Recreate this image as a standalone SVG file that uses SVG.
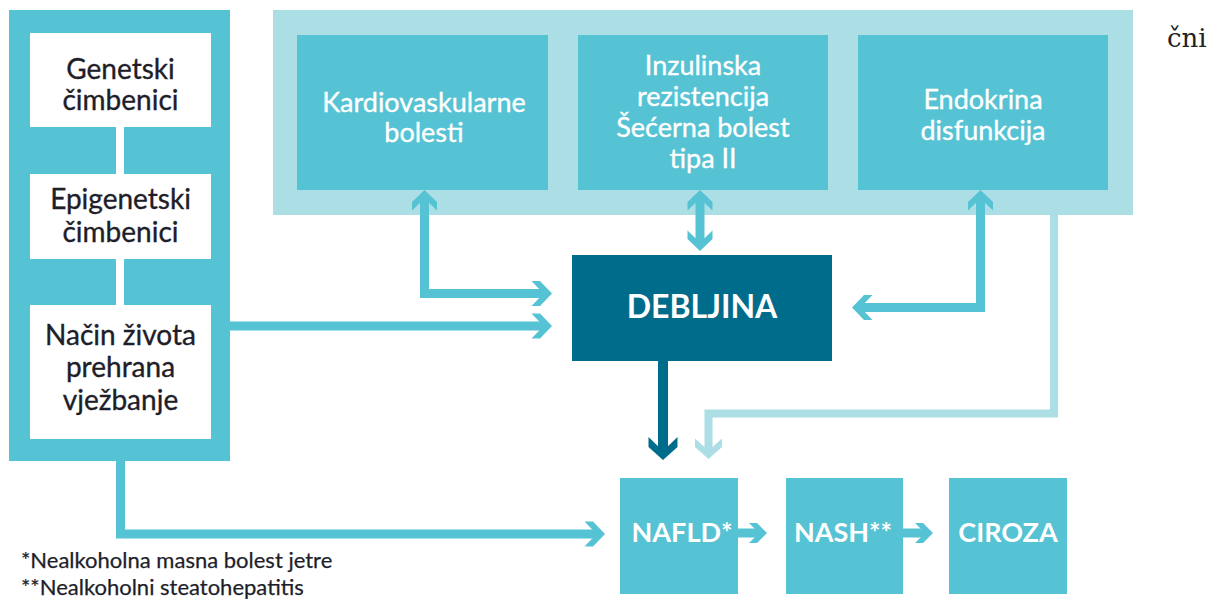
<svg xmlns="http://www.w3.org/2000/svg" width="1207" height="599" viewBox="0 0 1207 599">
<style>
.teal{fill:#55c3d3}
.light{fill:#acdee5}
.dark{fill:#006c8b}
.white{fill:#ffffff}
.t{font-family:Lato,"Noto Sans",sans-serif;text-anchor:middle}
.tl{font-size:28px;fill:#1e1e2a;stroke:#1e1e2a;stroke-width:0.35}
.tw{font-size:27px;fill:#ffffff;stroke:#ffffff;stroke-width:0.35}
.tb{font-size:27px;font-weight:bold;fill:#ffffff}
.fn{font-family:Lato,"Noto Sans",sans-serif;font-size:22px;fill:#1e1e2a;stroke:#1e1e2a;stroke-width:0.25}
.c{fill:none;stroke-linejoin:miter;stroke-linecap:butt}
.ct{stroke:#55c3d3;stroke-width:9}
.cl{stroke:#acdee5;stroke-width:8}
.cd{stroke:#006c8b;stroke-width:10}
.cw{stroke:#ffffff;stroke-width:8}
</style>
<defs>
<marker id="aT" markerUnits="userSpaceOnUse" viewBox="-15 -15 30 30" markerWidth="30" markerHeight="30" refX="0" refY="0" orient="auto-start-reverse" overflow="visible">
<polygon points="8,0 -4,-12.5 -12.5,-12.5 -0.5,0 -12.5,12.5 -4,12.5" fill="#55c3d3"/>
</marker>
<marker id="aS" markerUnits="userSpaceOnUse" viewBox="-15 -15 30 30" markerWidth="30" markerHeight="30" refX="0" refY="0" orient="auto" overflow="visible">
<polygon points="8,0 -2,-10 -10,-10 0,0 -10,10 -2,10" fill="#55c3d3"/>
</marker>
<marker id="aL" markerUnits="userSpaceOnUse" viewBox="-15 -15 30 30" markerWidth="30" markerHeight="30" refX="0" refY="0" orient="auto" overflow="visible">
<polygon points="8,0 -4,-13.5 -12.5,-13.5 -0.5,0 -12.5,13.5 -4,13.5" fill="#acdee5"/>
</marker>
<marker id="aD" markerUnits="userSpaceOnUse" viewBox="-15 -15 30 30" markerWidth="30" markerHeight="30" refX="0" refY="0" orient="auto" overflow="visible">
<polygon points="8,0 -5,-14.5 -15,-14.5 -1,0 -15,14.5 -5,14.5" fill="#006c8b"/>
</marker>
</defs>

<g id="left-panel">
<rect class="teal" x="9" y="10" width="221" height="451"/>
</g>
<g id="top-panel">
<rect class="light" x="273" y="10" width="860" height="205"/>
</g>

<g id="connectors">
<line class="c cw" x1="120" y1="127" x2="120" y2="174"/>
<line class="c cw" x1="120" y1="259" x2="120" y2="305"/>
<path class="c ct" d="M424.5,198 V293.5 H544" marker-start="url(#aT)" marker-end="url(#aT)"/>
<path class="c ct" d="M700,198 V243" marker-start="url(#aT)" marker-end="url(#aT)"/>
<path class="c ct" d="M980.5,198 V307.5 H860" marker-start="url(#aT)" marker-end="url(#aT)"/>
<path class="c ct" d="M230,326 H544" marker-end="url(#aT)"/>
<path class="c ct" d="M120.5,461 V534 H597" marker-end="url(#aT)"/>
<path class="c cd" d="M663,361 V452" marker-end="url(#aD)"/>
<path class="c cl" d="M1054,215 V413.5 H708.5 V451" marker-end="url(#aL)"/>
<path class="c ct" d="M738,533 H759" marker-end="url(#aS)"/>
<path class="c ct" d="M903,533 H925" marker-end="url(#aS)"/>
</g>

<g id="genetski">
<rect class="white" x="30" y="33" width="181" height="94"/>
<text class="t tl" x="120.5" y="79">Genetski</text>
<text class="t tl" x="120.5" y="110">čimbenici</text>
</g>
<g id="epigenetski">
<rect class="white" x="30" y="174" width="181" height="85"/>
<text class="t tl" x="120.5" y="209">Epigenetski</text>
<text class="t tl" x="120.5" y="242">čimbenici</text>
</g>
<g id="nacin-zivota">
<rect class="white" x="30" y="305" width="181" height="134"/>
<text class="t tl" x="120.5" y="345">Način života</text>
<text class="t tl" x="120.5" y="377">prehrana</text>
<text class="t tl" x="120.5" y="410">vježbanje</text>
</g>

<g id="kardiovaskularne">
<rect class="teal" x="297" y="35" width="251" height="155"/>
<text class="t tw" x="424" y="112">Kardiovaskularne</text>
<text class="t tw" x="424" y="142">bolesti</text>
</g>
<g id="inzulinska">
<rect class="teal" x="578" y="35" width="250" height="155"/>
<text class="t tw" x="703" y="75">Inzulinska</text>
<text class="t tw" x="703" y="106">rezistencija</text>
<text class="t tw" x="703" y="137">Šećerna bolest</text>
<text class="t tw" x="703" y="168">tipa II</text>
</g>
<g id="endokrina">
<rect class="teal" x="858" y="35" width="250" height="155"/>
<text class="t tw" x="983" y="109">Endokrina</text>
<text class="t tw" x="983" y="140">disfunkcija</text>
</g>

<g id="debljina">
<rect class="dark" x="572" y="255" width="260" height="106"/>
<text class="t" x="702" y="318" style="font-size:32px;font-weight:bold;fill:#ffffff">DEBLJINA</text>
</g>

<g id="nafld">
<rect class="teal" x="620" y="478" width="118" height="116"/>
<text class="t tb" x="682" y="542">NAFLD*</text>
</g>
<g id="nash">
<rect class="teal" x="786" y="478" width="117" height="116"/>
<text class="t tb" x="843" y="542">NASH**</text>
</g>
<g id="ciroza">
<rect class="teal" x="949" y="478" width="118" height="116"/>
<text class="t tb" x="1008" y="542">CIROZA</text>
</g>

<g id="footnotes">
<text class="fn" x="21" y="568">*Nealkoholna masna bolest jetre</text>
<text class="fn" x="21" y="595">**Nealkoholni steatohepatitis</text>
</g>
<text x="1167" y="47" style="font-family:'DejaVu Serif',serif;font-size:26px;fill:#222222">čni</text>
</svg>
